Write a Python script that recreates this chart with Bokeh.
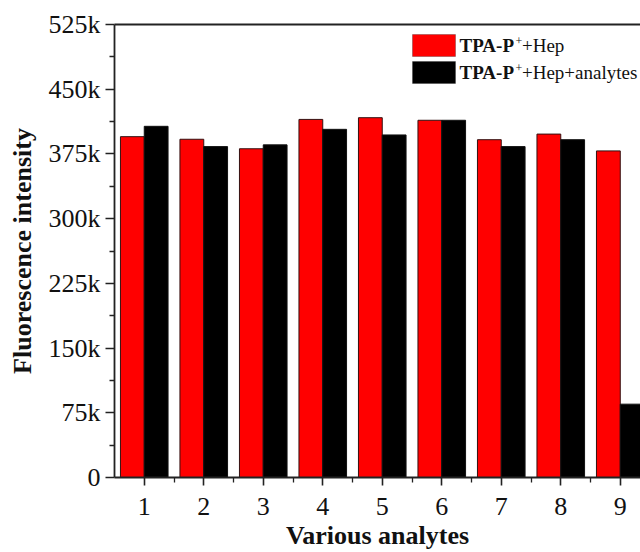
from bokeh.plotting import figure
from bokeh.models import FixedTicker, LinearAxis, Range1d, Label, BoxAnnotation, ColumnDataSource
from bokeh.transform import dodge
from bokeh.embed import file_html
from bokeh.resources import INLINE

# ---- data ----
analytes = [1, 2, 3, 4, 5, 6, 7, 8, 9]
hep = [395000, 392000, 381000, 415000, 417000, 414000, 391500, 398000, 378500]
hep_analytes = [407000, 383500, 385500, 403500, 397000, 414000, 383500, 391500, 85000]
y_ticks = [0, 75000, 150000, 225000, 300000, 375000, 450000, 525000]
y_tick_labels = ["0", "75k", "150k", "225k", "300k", "375k", "450k", "525k"]
y_minor = [37500, 112500, 187500, 262500, 337500, 412500, 487500]
x_tick_labels = ["1", "2", "3", "4", "5", "6", "7", "8", "9"]
x_minor = [1.5, 2.5, 3.5, 4.5, 5.5, 6.5, 7.5, 8.5]
series_colors = ["#FF0000", "#000000"]

FONT = "Liberation Serif"
AX = "#222222"

src = ColumnDataSource(dict(x=analytes, hep=hep, hepa=hep_analytes))

p = figure(width=640, height=552, output_backend="svg", toolbar_location=None,
           x_range=Range1d(0.5, 9.34), y_range=Range1d(0, 525000),
           min_border_left=114, min_border_right=0, min_border_top=24, min_border_bottom=75)
p.outline_line_color = None
p.xgrid.visible = False
p.ygrid.visible = False
p.background_fill_color = "white"
p.border_fill_color = "white"

p.vbar(x=dodge("x", -0.2, range=p.x_range), top="hep", width=0.4, source=src,
       fill_color=series_colors[0], line_color="#331111", line_width=1)
p.vbar(x=dodge("x", 0.2, range=p.x_range), top="hepa", width=0.4, source=src,
       fill_color=series_colors[1], line_color="#111111", line_width=1)

# axes
xa = p.xaxis[0]
xa.ticker = FixedTicker(ticks=analytes, minor_ticks=x_minor)
xa.major_label_overrides = {a: l for a, l in zip(analytes, x_tick_labels)}
ya = p.yaxis[0]
ya.ticker = FixedTicker(ticks=y_ticks, minor_ticks=y_minor)
ya.major_label_overrides = {t: l for t, l in zip(y_ticks, y_tick_labels)}

for ax in (xa, ya):
    ax.axis_line_color = AX
    ax.axis_line_width = 1.8
    ax.major_tick_line_color = AX
    ax.minor_tick_line_color = AX
    ax.major_tick_line_width = 1.6
    ax.minor_tick_line_width = 1.3
    ax.major_tick_in = 0
    ax.minor_tick_in = 0
    ax.major_label_text_font = FONT
    ax.major_label_text_font_size = "26px"
    ax.major_label_text_color = "#111111"
    ax.axis_label_text_font = FONT
    ax.axis_label_text_font_size = "26px"
    ax.axis_label_text_font_style = "bold"
    ax.axis_label_text_color = "#111111"

xa.axis_label = "Various analytes"
xa.major_tick_out = 8
xa.minor_tick_out = 5
xa.major_label_standoff = 12
xa.axis_label_standoff = 3

ya.axis_label = "Fluorescence intensity"
ya.major_tick_out = 9
ya.minor_tick_out = 5
ya.major_label_standoff = 5
ya.axis_label_standoff = 9

top = LinearAxis(ticker=FixedTicker(ticks=[]), axis_line_color=AX, axis_line_width=1.8,
                 major_tick_out=0, minor_tick_out=0, major_tick_in=0, minor_tick_in=0,
                 major_label_text_font_size="0px")
p.add_layout(top, "above")

# legend (screen units, relative to frame)
legend_rows = [("+Hep", 443, 421, 432), ("+Hep+analytes", 416, 394, 405)]
for (suffix, t, b, yc), col in zip(legend_rows, series_colors):
    p.add_layout(BoxAnnotation(left=298, right=341, top=t, bottom=b,
                               left_units="screen", right_units="screen",
                               top_units="screen", bottom_units="screen",
                               fill_color=col, fill_alpha=1, line_color="#222222", line_width=1))
    p.add_layout(Label(x=345, y=yc, x_units="screen", y_units="screen", text="TPA-P",
                       text_font=FONT, text_font_size="19px", text_font_style="bold",
                       text_baseline="middle", text_color="#111111"))
    p.add_layout(Label(x=401, y=yc + 5, x_units="screen", y_units="screen", text="+",
                       text_font=FONT, text_font_size="12px",
                       text_baseline="middle", text_color="#111111"))
    p.add_layout(Label(x=407.5, y=yc, x_units="screen", y_units="screen", text=suffix,
                       text_font=FONT, text_font_size="19px",
                       text_baseline="middle", text_color="#111111"))

open("out.html", "w").write(file_html(p, INLINE))
